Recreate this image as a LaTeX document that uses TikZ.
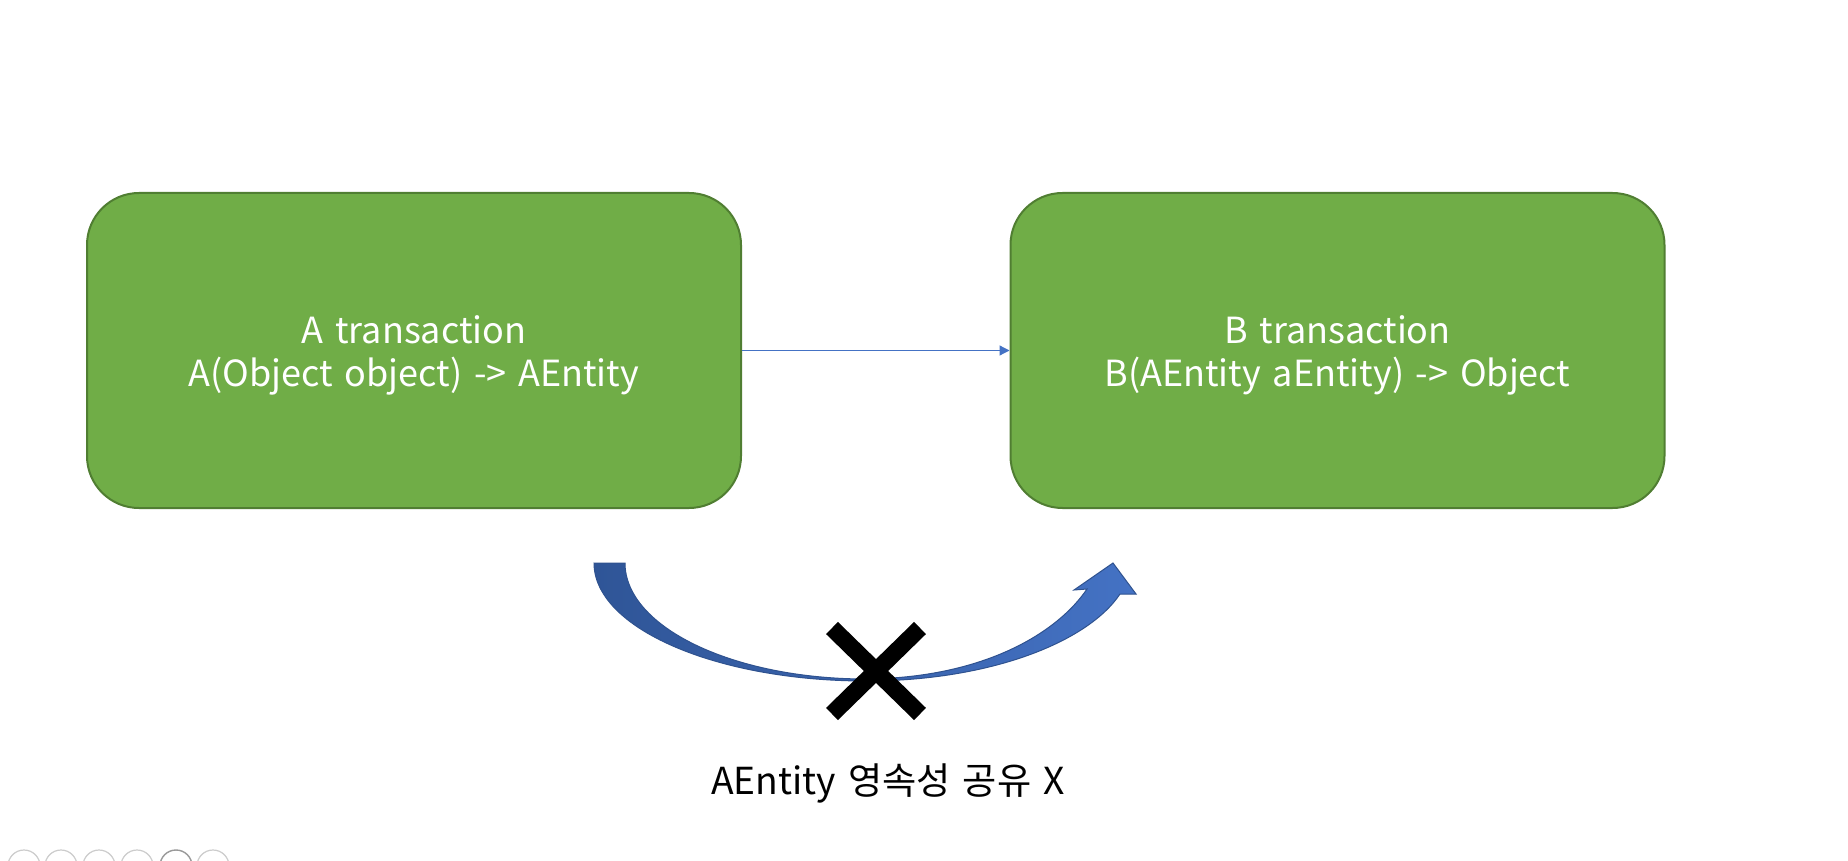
\documentclass[tikz,border=0pt]{standalone}
\usepackage{fontspec}
\setmainfont[WordSpace=1.45]{Noto Sans CJK KR}
\usetikzlibrary{arrows.meta}
\definecolor{boxgreen}{HTML}{70AD47}
\definecolor{boxedge}{HTML}{507E32}
\definecolor{linkblue}{HTML}{4472C4}
\definecolor{darkblue}{HTML}{2F5597}
\definecolor{arrowedge}{HTML}{2F528F}
\tikzset{
  txbox/.style={draw=boxedge, fill=boxgreen, line width=1pt, rounded corners=26pt,
    minimum width=327pt, minimum height=157.5pt},
  boxtext/.style={text=white, align=center, inner sep=0pt,
    font=\fontsize{18}{21.5}\selectfont},
  conn/.style={draw=linkblue, line width=0.6pt, -{Triangle[length=5pt,width=5pt]}},
  crossmark/.style={line width=8.5pt, draw=black},
  caption/.style={text=black, font=\fontsize{18.6}{22}\selectfont},
  uiicon/.style={draw=gray!40, line width=0.6pt}
}
\begin{document}
\begin{tikzpicture}[x=0.5pt,y=-0.5pt]
\useasboundingbox[fill=white] (0,0) rectangle (1848,861);
\node[txbox] (A) at (414,350.5) {};
\node[txbox] (B) at (1337.5,350.5) {};
\node[boxtext] (Atext) at ([yshift=-2.5pt]A.center) {A transaction\\A(Object object) -> AEntity};
\node[boxtext] (Btext) at ([yshift=-2.5pt]B.center) {B transaction\\B(AEntity aEntity) -> Object};
\draw[conn] (A.east) -- (B.west);
% curved up arrow
\shade[left color=darkblue, right color=linkblue, draw=arrowedge, line width=0.5pt]
  (594,563) .. controls (594,628) and (716,681) .. (866,681)
  .. controls (990,681) and (1088,642) .. (1120,594)
  -- (1136,594) -- (1113,563) -- (1074,590) -- (1087,589)
  .. controls (1058,632) and (985,678) .. (866,679)
  .. controls (733,679) and (625,627) .. (625,563) -- cycle;
% cross
\coordinate (x1) at (832,628); \coordinate (x2) at (920,714);
\coordinate (x3) at (920,628); \coordinate (x4) at (832,714);
\draw[crossmark] (x1) -- (x2);
\draw[crossmark] (x3) -- (x4);
\node[caption] (cap) at (888,783) {AEntity 영속성 공유 X};
% toolbar icons (partly visible)
\foreach \i/\cx in {1/24,2/61,3/99,4/137,6/213}
  \draw[uiicon] (\cx,866) circle[radius=16];
\draw[draw=gray!80, line width=0.7pt] (176,866) circle[radius=16];
\end{tikzpicture}
\end{document}
